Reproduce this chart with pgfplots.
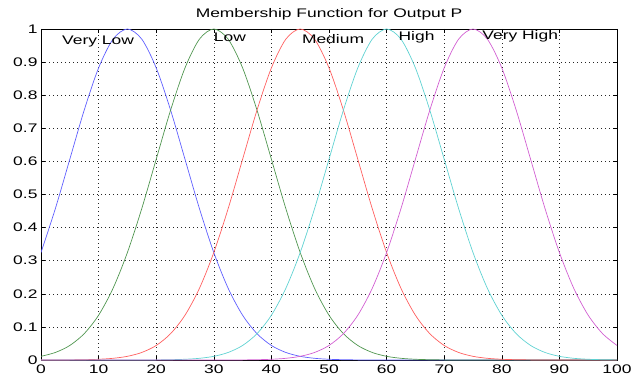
\documentclass[border=0pt]{standalone}
\usepackage{fontspec}
\setmainfont{Liberation Sans}[FakeStretch=1.4]
\usepackage{pgfplots}
\pgfplotsset{compat=1.18}
\usepackage{pgfplotstable}
\definecolor{mfblue}{RGB}{95,95,255}
\definecolor{mfgreen}{RGB}{80,150,80}
\definecolor{mfred}{RGB}{255,95,95}
\definecolor{mfcyan}{RGB}{95,210,210}
\definecolor{mfmag}{RGB}{210,95,210}
\pgfplotstableread{
x vl l m h vh
0 0.3247 0.0111 0 0 0
2.5 0.4578 0.0228 0.0001 0 0
5 0.6065 0.0439 0.0003 0 0
7.5 0.7548 0.0796 0.0009 0 0
10 0.8825 0.1353 0.0022 0 0
12.5 0.9692 0.2163 0.0051 0 0
15 1 0.3247 0.0111 0 0
17.5 0.9692 0.4578 0.0228 0.0001 0
20 0.8825 0.6065 0.0439 0.0003 0
22.5 0.7548 0.7548 0.0796 0.0009 0
25 0.6065 0.8825 0.1353 0.0022 0
27.5 0.4578 0.9692 0.2163 0.0051 0
30 0.3247 1 0.3247 0.0111 0
32.5 0.2163 0.9692 0.4578 0.0228 0.0001
35 0.1353 0.8825 0.6065 0.0439 0.0003
37.5 0.0796 0.7548 0.7548 0.0796 0.0009
40 0.0439 0.6065 0.8825 0.1353 0.0022
42.5 0.0228 0.4578 0.9692 0.2163 0.0051
45 0.0111 0.3247 1 0.3247 0.0111
47.5 0.0051 0.2163 0.9692 0.4578 0.0228
50 0.0022 0.1353 0.8825 0.6065 0.0439
52.5 0.0009 0.0796 0.7548 0.7548 0.0796
55 0.0003 0.0439 0.6065 0.8825 0.1353
57.5 0.0001 0.0228 0.4578 0.9692 0.2163
60 0 0.0111 0.3247 1 0.3247
62.5 0 0.0051 0.2163 0.9692 0.4578
65 0 0.0022 0.1353 0.8825 0.6065
67.5 0 0.0009 0.0796 0.7548 0.7548
70 0 0.0003 0.0439 0.6065 0.8825
72.5 0 0.0001 0.0228 0.4578 0.9692
75 0 0 0.0111 0.3247 1
77.5 0 0 0.0051 0.2163 0.9692
80 0 0 0.0022 0.1353 0.8825
82.5 0 0 0.0009 0.0796 0.7548
85 0 0 0.0003 0.0439 0.6065
87.5 0 0 0.0001 0.0228 0.4578
90 0 0 0 0.0111 0.3247
92.5 0 0 0 0.0051 0.2163
95 0 0 0 0.0022 0.1353
97.5 0 0 0 0.0009 0.0796
100 0 0 0 0.0003 0.0439
}\mf
\begin{document}
\begin{tikzpicture}
\begin{axis}[
  scale only axis, width=576bp, height=331bp,
  xmin=0, xmax=100, ymin=0, ymax=1,
  xtick={0,10,...,100}, ytick={0,0.1,...,1},
  yticklabels={0,0.1,0.2,0.3,0.4,0.5,0.6,0.7,0.8,0.9,1},
  grid=major, grid style={black!85, line width=0.6pt, dash pattern=on 1bp off 3bp},
  tick align=inside, major tick length=4bp,
  tick style={black, line width=0.5pt},
  axis line style={black, line width=0.7pt},
  /pgf/number format/assume math mode=true,
  tick label style={font=\fontsize{12.5}{14}\selectfont},
  xticklabel style={yshift=-1.5bp},
  title={Membership Function for Output P},
  title style={font=\fontsize{12.5}{14}\selectfont, at={(0.5,1)}, anchor=south, inner sep=0pt, yshift=3bp},
  every axis plot/.append style={line width=0.7pt, smooth},
  clip=true,
]
\addplot[mfblue] table[x=x,y=vl]{\mf};
\addplot[mfgreen] table[x=x,y=l]{\mf};
\addplot[mfred] table[x=x,y=m]{\mf};
\addplot[mfcyan] table[x=x,y=h]{\mf};
\addplot[mfmag] table[x=x,y=vh]{\mf};
\node[font=\fontsize{12.5}{14}\selectfont] at (axis cs:9.9,0.962) {Very Low};
\node[font=\fontsize{12.5}{14}\selectfont] at (axis cs:32.8,0.975) {Low};
\node[font=\fontsize{12.5}{14}\selectfont] at (axis cs:50.7,0.971) {Medium};
\node[font=\fontsize{12.5}{14}\selectfont] at (axis cs:65.2,0.975) {High};
\node[font=\fontsize{12.5}{14}\selectfont] at (axis cs:83.2,0.978) {Very High};
\coordinate (sw) at (rel axis cs:0,0);
\coordinate (ne) at (rel axis cs:1,1);
\end{axis}
\pgfresetboundingbox
\path ([shift={(-41bp,-18bp)}]sw) rectangle ([shift={(16bp,29bp)}]ne);
\end{tikzpicture}
\end{document}
